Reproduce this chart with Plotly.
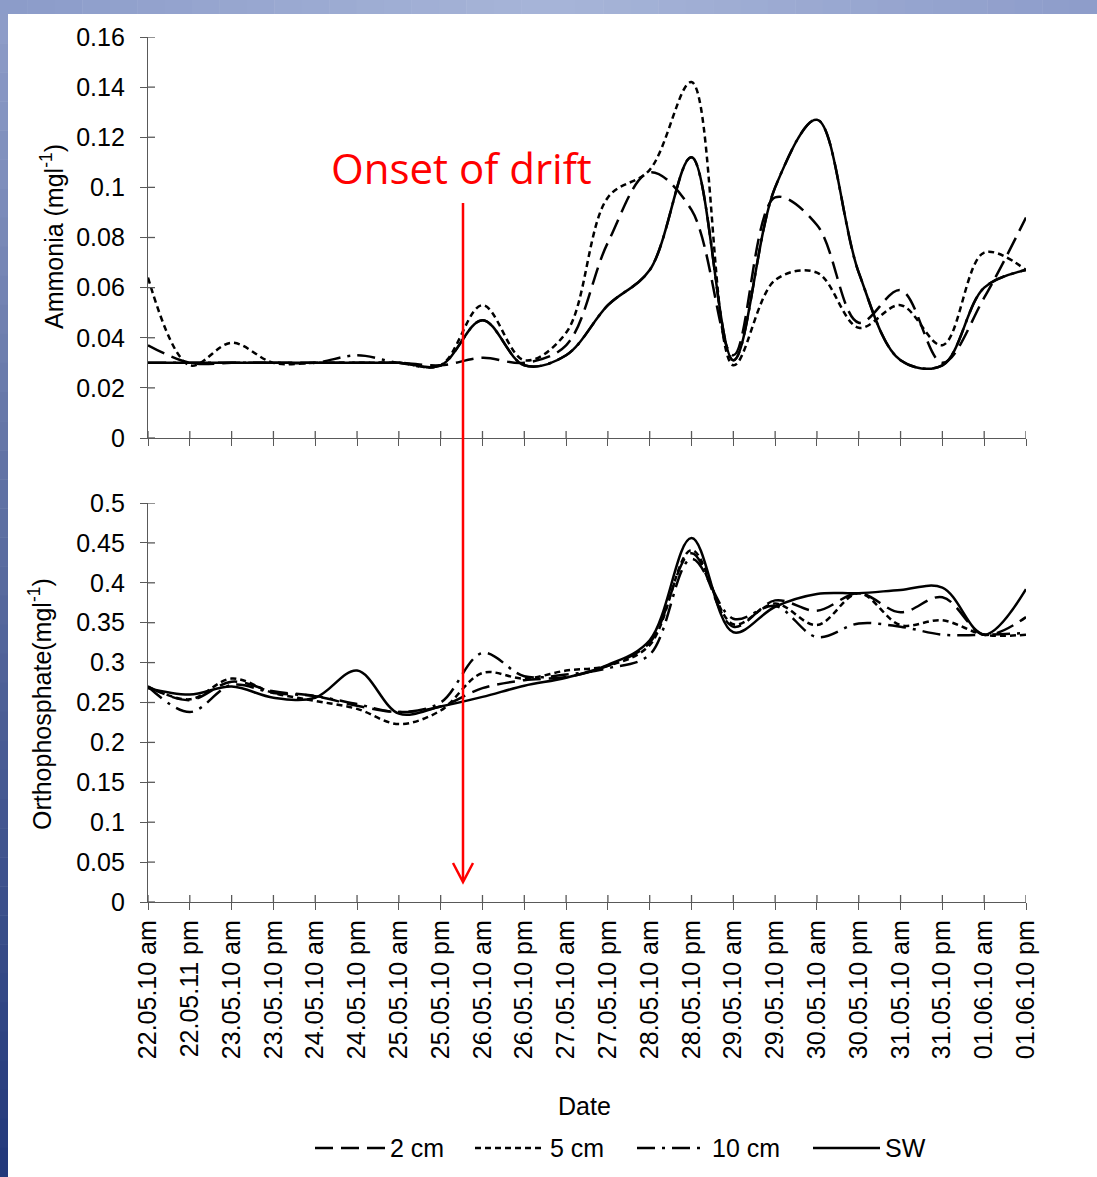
import plotly.graph_objects as go

# ---------------- data ----------------
categories = ["22.05.10 am", "22.05.11 pm", "23.05.10 am", "23.05.10 pm", "24.05.10 am",
              "24.05.10 pm", "25.05.10 am", "25.05.10 pm", "26.05.10 am", "26.05.10 pm",
              "27.05.10 am", "27.05.10 pm", "28.05.10 am", "28.05.10 pm", "29.05.10 am",
              "29.05.10 pm", "30.05.10 am", "30.05.10 pm", "31.05.10 am", "31.05.10 pm",
              "01.06.10 am", "01.06.10 pm"]

series_names = ["2 cm", "5 cm", "10 cm", "SW"]

ammonia_2cm = [0.037, 0.030, 0.030, 0.030, 0.030, 0.030, 0.030, 0.029, 0.032, 0.030, 0.037,
               0.078, 0.106, 0.091, 0.033, 0.096, 0.085, 0.046, 0.059, 0.030, 0.056, 0.088]
ammonia_5cm = [0.064, 0.029, 0.038, 0.030, 0.030, 0.030, 0.030, 0.029, 0.053, 0.031, 0.042,
               0.096, 0.107, 0.142, 0.029, 0.063, 0.066, 0.044, 0.053, 0.037, 0.074, 0.067]
ammonia_10cm = [0.030, 0.030, 0.030, 0.030, 0.030, 0.033, 0.030, 0.029, 0.047, 0.029, 0.033,
                0.053, 0.067, 0.112, 0.031, 0.100, 0.127, 0.066, 0.031, 0.029, 0.060, 0.067]
ammonia_sw = [0.030, 0.030, 0.030, 0.030, 0.030, 0.030, 0.030, 0.029, 0.047, 0.029, 0.033,
              0.053, 0.067, 0.112, 0.031, 0.100, 0.127, 0.066, 0.031, 0.029, 0.060, 0.067]

ortho_2cm = [0.270, 0.253, 0.276, 0.264, 0.258, 0.246, 0.238, 0.245, 0.268, 0.278, 0.282,
             0.296, 0.325, 0.437, 0.345, 0.378, 0.365, 0.387, 0.363, 0.382, 0.335, 0.357]
ortho_5cm = [0.270, 0.254, 0.280, 0.262, 0.252, 0.242, 0.223, 0.240, 0.287, 0.280, 0.290,
             0.296, 0.322, 0.441, 0.348, 0.374, 0.347, 0.387, 0.347, 0.353, 0.335, 0.335]
ortho_10cm = [0.270, 0.238, 0.272, 0.262, 0.258, 0.248, 0.238, 0.250, 0.312, 0.283, 0.285,
              0.293, 0.310, 0.430, 0.355, 0.371, 0.332, 0.349, 0.345, 0.335, 0.335, 0.337]
ortho_sw = [0.268, 0.260, 0.270, 0.256, 0.256, 0.290, 0.236, 0.245, 0.257, 0.271, 0.281,
            0.297, 0.328, 0.456, 0.338, 0.370, 0.386, 0.387, 0.391, 0.394, 0.335, 0.392]

ammonia_ticks = [0, 0.02, 0.04, 0.06, 0.08, 0.1, 0.12, 0.14, 0.16]
ammonia_ticktext = ["0", "0.02", "0.04", "0.06", "0.08", "0.1", "0.12", "0.14", "0.16"]
ortho_ticks = [0, 0.05, 0.1, 0.15, 0.2, 0.25, 0.3, 0.35, 0.4, 0.45, 0.5]
ortho_ticktext = ["0", "0.05", "0.1", "0.15", "0.2", "0.25", "0.3", "0.35", "0.4", "0.45", "0.5"]

# ---------------- geometry helpers (pixel -> paper) ----------------
W, H = 1097, 1177
L, R, T, B = 148, 71, 37, 275
PW, PH = W - L - R, H - T - B


def px(xp):
    return (xp - L) / PW


def py(yp):
    return (H - B - yp) / PH


FONT = "Liberation Sans, Arial, sans-serif"
AXC = "#595959"
dash_styles = {"2 cm": "18px,8px", "5 cm": "6px,4px", "10 cm": "18px,7px,3px,7px", "SW": "solid"}

fig = go.Figure()

top = {"2 cm": ammonia_2cm, "5 cm": ammonia_5cm, "10 cm": ammonia_10cm, "SW": ammonia_sw}
bot = {"2 cm": ortho_2cm, "5 cm": ortho_5cm, "10 cm": ortho_10cm, "SW": ortho_sw}

draw_order = ["10 cm", "2 cm", "5 cm", "SW"]
for name in draw_order:
    fig.add_trace(go.Scatter(
        x=categories, y=top[name], name=name, mode="lines",
        line=dict(color="black", width=2.5, dash=dash_styles[name], shape="spline", smoothing=1.0),
        xaxis="x", yaxis="y", showlegend=False))
for name in draw_order:
    fig.add_trace(go.Scatter(
        x=categories, y=bot[name], name=name, mode="lines",
        line=dict(color="black", width=2.5, dash=dash_styles[name], shape="spline", smoothing=1.0),
        xaxis="x2", yaxis="y2", showlegend=False))

n = len(categories)
top_dom = [py(438), 1.0]
bot_dom = [0.0, py(503)]

common_x = dict(type="category", range=[0, n - 1], showline=True, linecolor=AXC, linewidth=1.3,
                ticks="outside", ticklen=7, tickcolor=AXC, tickwidth=1.3, showgrid=False,
                zeroline=False, tickmode="array", tickvals=categories)
common_y = dict(showline=True, linecolor=AXC, linewidth=1.3, ticks="outside", ticklen=7,
                tickcolor=AXC, tickwidth=1.3, showgrid=False, zeroline=False,
                tickfont=dict(family=FONT, size=25, color="black"), ticklabelstandoff=10)

fig.update_layout(
    width=W, height=H,
    margin=dict(l=L, r=R, t=T, b=B),
    paper_bgcolor="white", plot_bgcolor="white",
    font=dict(family=FONT, size=25, color="black"),
    xaxis=dict(common_x, anchor="y", domain=[0, 1], showticklabels=False),
    xaxis2=dict(common_x, anchor="y2", domain=[0, 1], tickangle=-90,
                tickfont=dict(family=FONT, size=25, color="black")),
    yaxis=dict(common_y, anchor="x", domain=top_dom, range=[0, 0.16],
               tickmode="array", tickvals=ammonia_ticks, ticktext=ammonia_ticktext),
    yaxis2=dict(common_y, anchor="x2", domain=bot_dom, range=[0, 0.5],
                tickmode="array", tickvals=ortho_ticks, ticktext=ortho_ticktext),
    showlegend=False,
)

shapes = []
# inner halves of the crossing tick marks
for xa, ya in (("x", "y"), ("x2", "y2")):
    for i in range(n):
        shapes.append(dict(type="line", xref=xa, yref=ya, x0=i, x1=i, ysizemode="pixel",
                           yanchor=0, y0=0, y1=7, line=dict(color=AXC, width=1.3)))
for xa, ya, tv in (("x", "y", ammonia_ticks), ("x2", "y2", ortho_ticks)):
    for v in tv:
        shapes.append(dict(type="line", xref=xa, yref=ya, y0=v, y1=v, xsizemode="pixel",
                           xanchor=0, x0=0, x1=7, line=dict(color=AXC, width=1.3)))


# slide-style gradient bands (top and left edges)
def lerp(c1, c2, t):
    return "rgb(%d,%d,%d)" % tuple(round(a + (b - a) * t) for a, b in zip(c1, c2))


top_l, top_c, top_r = (139, 155, 201), (167, 181, 216), (141, 156, 202)
NS = 40
for k in range(NS):
    x0p, x1p = W * k / NS, W * (k + 1) / NS
    t = (k + 0.5) / NS
    col = lerp(top_l, top_c, t * 2) if t < 0.5 else lerp(top_c, top_r, (t - 0.5) * 2)
    shapes.append(dict(type="rect", xref="paper", yref="paper", x0=px(x0p), x1=px(x1p + 0.5),
                       y0=py(14), y1=py(0), fillcolor=col, line=dict(width=0), layer="above"))
left_t, left_m, left_b = (142, 157, 201), (102, 119, 168), (34, 56, 122)
for k in range(NS):
    y0p, y1p = 14 + (H - 14) * k / NS, 14 + (H - 14) * (k + 1) / NS
    t = (k + 0.5) / NS
    col = lerp(left_t, left_m, t / 0.35) if t < 0.35 else lerp(left_m, left_b, (t - 0.35) / 0.65)
    shapes.append(dict(type="rect", xref="paper", yref="paper", x0=px(0), x1=px(8),
                       y0=py(y1p + 0.5), y1=py(y0p), fillcolor=col, line=dict(width=0), layer="above"))

# red "onset of drift" arrow
RED = "#FF0000"
shapes.append(dict(type="line", xref="paper", yref="paper", x0=px(463), x1=px(463),
                   y0=py(203), y1=py(881), line=dict(color=RED, width=2.5)))
shapes.append(dict(type="path", xref="paper", yref="paper",
                   path="M %f,%f L %f,%f L %f,%f" % (px(453), py(863), px(463), py(882), px(473), py(863)),
                   line=dict(color=RED, width=2.5)))

# custom legend (line samples + labels)
legend_pos = {"2 cm": (315, 385), "5 cm": (475, 545), "10 cm": (637, 707), "SW": (813, 880)}
LEG_Y = 1148
annotations = []
for name in series_names:
    a, b = legend_pos[name]
    shapes.append(dict(type="line", xref="paper", yref="paper", x0=px(a), x1=px(b),
                       y0=py(LEG_Y), y1=py(LEG_Y),
                       line=dict(color="black", width=2.5, dash=dash_styles[name])))
    annotations.append(dict(text=name, xref="paper", yref="paper", x=px(b + 3), y=py(LEG_Y),
                            xanchor="left", yanchor="middle", showarrow=False,
                            font=dict(family=FONT, size=25, color="black")))

fig.update_layout(shapes=shapes)

annotations += [
    dict(text="Onset of drift", xref="paper", yref="paper", x=px(461), y=py(167),
         xanchor="center", yanchor="middle", showarrow=False,
         font=dict(family="Open Sans, Lato, sans-serif", size=42, color=RED)),
    dict(text="Ammonia (mgl<sup>-1</sup>)", xref="paper", yref="paper", x=px(52), y=py(237),
         xanchor="center", yanchor="middle", textangle=-90, showarrow=False,
         font=dict(family=FONT, size=25, color="black")),
    dict(text="Orthophosphate(mgl<sup>-1</sup>)", xref="paper", yref="paper", x=px(40), y=py(704),
         xanchor="center", yanchor="middle", textangle=-90, showarrow=False,
         font=dict(family=FONT, size=25, color="black")),
    dict(text="Date", xref="paper", yref="paper", x=px(584), y=py(1106),
         xanchor="center", yanchor="middle", showarrow=False,
         font=dict(family=FONT, size=25, color="black")),
]
fig.update_layout(annotations=annotations)

fig.write_html("out.html", config={"displayModeBar": False},
               post_script="document.body.style.margin='0';")
